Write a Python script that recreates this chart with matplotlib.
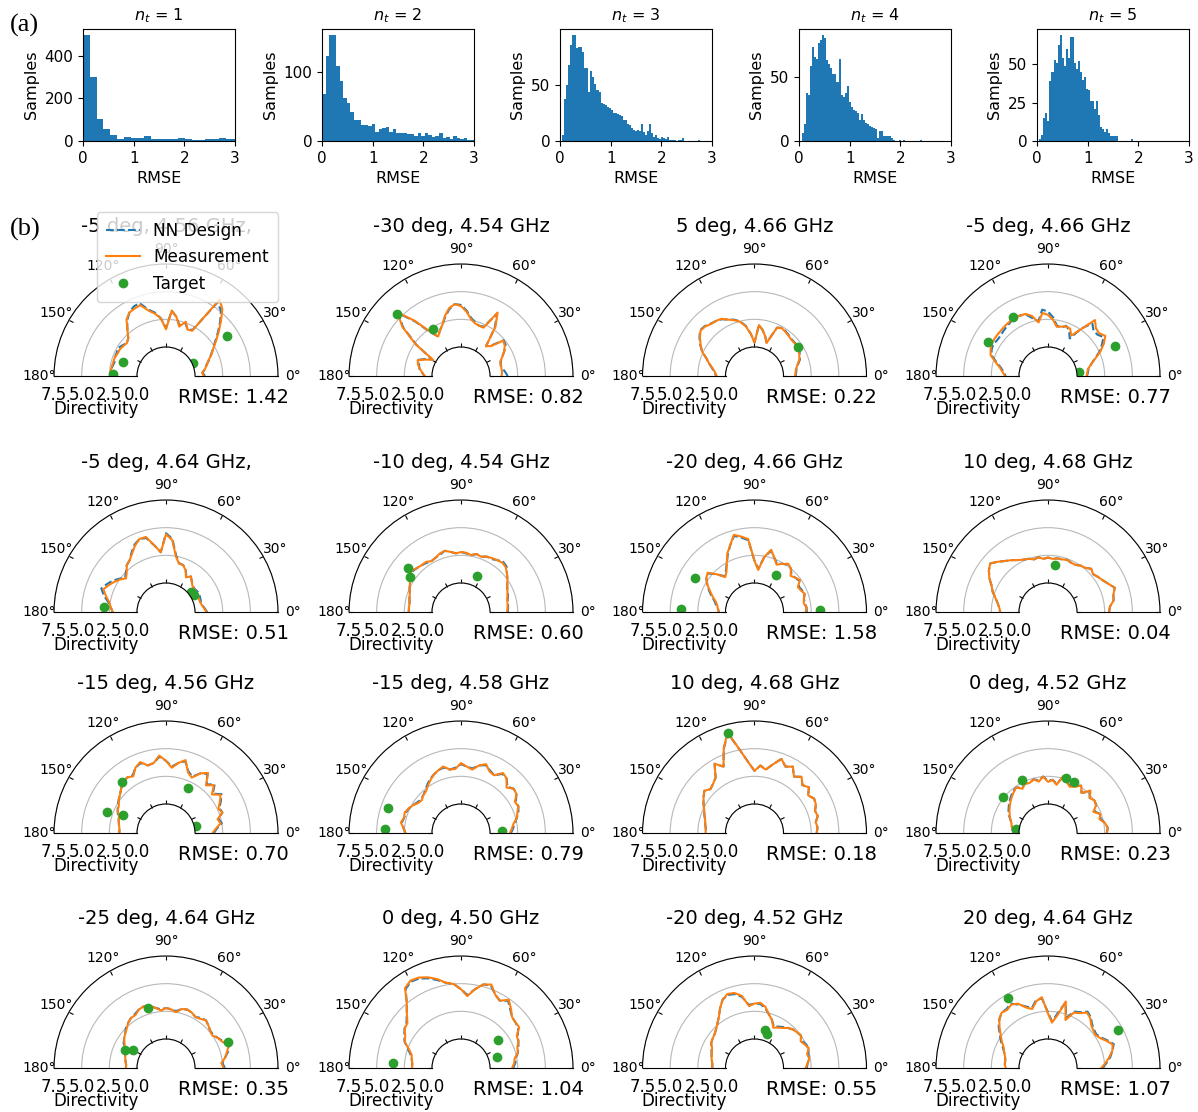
import numpy as np
import matplotlib
matplotlib.use("Agg")
import matplotlib.pyplot as plt

# ---------------- (a) RMSE histograms ----------------
hist_titles = ["$n_t$ = 1", "$n_t$ = 2", "$n_t$ = 3", "$n_t$ = 4", "$n_t$ = 5"]
hist_start = [0.0, 0.0, 0.04, 0.06, 0.046]
hist_width = [0.134, 0.07, 0.04, 0.04, 0.04]
counts_nt1 = [495, 300, 103, 58, 27, 11, 19, 16, 13, 22, 11, 8, 11, 11, 16, 8, 5, 5, 8, 11, 12, 11, 11]
counts_nt2 = [69, 124, 154, 154, 109, 88, 62, 56, 42, 31, 31, 24, 24, 22, 25, 13, 17, 19, 21, 13, 17, 12,
              11, 12, 10, 10, 8, 11, 7, 11, 9, 6, 7, 12, 4, 6, 3, 7, 4, 3, 4, 2, 1]
counts_nt3 = [5, 37, 50, 68, 85, 94, 94, 83, 84, 84, 79, 65, 65, 44, 62, 57, 51, 45, 44, 34, 33, 32, 30, 29,
              28, 25, 25, 24, 23, 22, 19, 19, 15, 14, 12, 10, 9, 10, 9, 15, 8, 5, 9, 15, 7, 4, 5, 3, 2, 4,
              3, 2, 4, 1, 1, 1, 0, 1, 1, 3, 0, 0, 0, 0, 0, 0, 0, 1]
counts_nt4 = [6, 13, 37, 36, 58, 73, 65, 64, 76, 78, 82, 80, 63, 60, 57, 52, 52, 46, 64, 36, 34, 37, 43, 30,
              26, 24, 23, 22, 16, 21, 16, 14, 13, 12, 11, 10, 9, 2, 8, 8, 4, 4, 4, 4, 2, 1, 0, 0, 1, 0, 1,
              0, 0, 0, 0, 0, 0, 0, 1]
counts_nt5 = [1, 4, 15, 18, 13, 39, 45, 53, 51, 63, 69, 54, 49, 60, 54, 68, 68, 51, 47, 52, 45, 40, 42, 34,
              33, 26, 26, 21, 26, 17, 9, 8, 6, 8, 5, 3, 3, 3, 3, 0, 0, 0, 0, 0, 0, 1]
hist_counts = [counts_nt1, counts_nt2, counts_nt3, counts_nt4, counts_nt5]

# ---------------- (b) radiation patterns ----------------
theta_deg = [0, 5, 10, 15, 20, 25, 30, 35, 40, 45, 50, 55, 60, 65, 70, 75, 80, 85, 90,
             95, 100, 105, 110, 115, 120, 125, 130, 135, 140, 145, 150, 155, 160, 165, 170, 175, 180]
theta_ticks = [0, 30, 60, 90, 120, 150, 180]
r_ticks = [0, 2.5, 5.0, 7.5]

titles = ["-5 deg, 4.56 GHz,", "-30 deg, 4.54 GHz", "5 deg, 4.66 GHz", "-5 deg, 4.66 GHz",
          "-5 deg, 4.64 GHz,", "-10 deg, 4.54 GHz", "-20 deg, 4.66 GHz", "10 deg, 4.68 GHz",
          "-15 deg, 4.56 GHz", "-15 deg, 4.58 GHz", "10 deg, 4.68 GHz", "0 deg, 4.52 GHz",
          "-25 deg, 4.64 GHz", "0 deg, 4.50 GHz", "-20 deg, 4.52 GHz", "20 deg, 4.64 GHz"]
rmse = [1.42, 0.82, 0.22, 0.77, 0.51, 0.60, 1.58, 0.04, 0.70, 0.79, 0.18, 0.23, 0.35, 1.04, 0.55, 1.07]

meas_01 = [0.8, 0.65, 0.95, 1.2, 1.45, 1.9, 2.3, 2.9, 3.6, 4.4, 5.3, 5.8, 2.1, 2.0, 2.6, 2.0, 2.8, 3.3, 1.6,
           2.6, 3.1, 3.5, 4.2, 4.1, 4.0, 3.6, 2.8, 2.2, 2.0, 2.1, 2.2, 2.2, 2.3, 2.3, 2.35, 2.4, 2.4]
nn_01 = [0.9, 0.7, 0.95, 1.15, 1.5, 1.85, 2.3, 2.8, 3.5, 4.3, 5.1, 5.5, 2.2, 2.0, 2.5, 2.1, 2.8, 3.3, 1.7,
         2.6, 3.2, 3.6, 4.4, 4.3, 4.0, 3.5, 2.8, 2.2, 2.0, 2.2, 2.4, 2.3, 2.3, 2.2, 2.3, 2.35, 2.4]
target_01 = [(33, 3.96), (26, 0.14), (162, 1.48), (177.5, 2.19)]

meas_02 = [1.05, 1.1, 1.1, 1.1, 1.15, 1.5, 1.9, 2.2, 2.35, 1.2, 0.9, 2.8, 4.0, 2.2, 2.2, 2.3, 2.6, 3.2, 3.7,
           3.9, 3.6, 3.0, 2.3, 1.9, 1.5, 2.3, 3.9, 5.5, 4.3, 2.4, 0.3, 0.9, 1.55, 1.4, 1.15, 0.9, 0.65]
nn_02 = [1.6, 1.4, 1.2, 1.1, 1.2, 1.5, 1.9, 2.3, 2.4, 1.3, 0.9, 2.7, 3.9, 2.3, 2.2, 2.4, 2.7, 3.3, 3.8,
         3.9, 3.5, 2.9, 2.3, 1.9, 1.5, 2.2, 3.8, 5.4, 4.2, 2.3, 0.4, 1.0, 1.6, 1.3, 1.2, 0.9, 0.7]
target_02 = [(136, 5.47), (121, 2.36)]

meas_03 = [1.05, 1.1, 1.2, 1.4, 1.7, 1.85, 2.0, 2.1, 2.05, 2.05, 2.15, 2.25, 2.35, 2.2, 0.55, 1.1, 1.6, 2.0,
           0.4, 1.2, 1.95, 2.45, 2.75, 3.0, 3.35, 3.45, 3.5, 3.7, 3.75, 3.4, 3.0, 2.6, 2.0, 1.6, 1.2, 0.95, 0.8]
nn_03 = [1.1, 1.15, 1.25, 1.45, 1.75, 1.9, 2.05, 2.15, 2.1, 2.1, 2.2, 2.3, 2.4, 2.2, 0.6, 1.1, 1.6, 2.0,
         0.4, 1.2, 2.0, 2.5, 2.8, 3.0, 3.3, 3.45, 3.55, 3.75, 3.8, 3.45, 3.05, 2.6, 2.0, 1.6, 1.25, 1.0, 0.85]
target_03 = [(34, 2.1)]

meas_04 = [0.87, 0.95, 1.05, 1.4, 1.9, 2.6, 3.2, 3.7, 3.4, 3.5, 3.98, 2.5, 1.6, 2.1, 2.15, 2.0, 1.9, 2.5, 2.9,
           3.1, 2.3, 3.0, 3.35, 3.4, 3.45, 3.4, 3.35, 3.3, 3.28, 3.27, 3.25, 3.1, 2.9, 2.3, 1.8, 1.5, 1.27]
nn_04 = [0.9, 1.0, 1.1, 1.4, 1.85, 2.5, 3.0, 3.5, 3.2, 3.2, 3.6, 2.6, 1.3, 1.9, 2.2, 1.9, 2.0, 2.7, 3.2,
         3.4, 2.4, 2.8, 3.3, 3.4, 3.5, 3.3, 3.2, 3.1, 3.0, 3.0, 3.1, 3.0, 2.8, 2.2, 1.7, 1.4, 1.2]
target_04 = [(151, 3.63), (120.6, 3.54), (24, 4.0), (6.7, 0.23)]

meas_05 = [1.05, 0.85, 0.7, 0.6, 0.58, 0.6, 0.62, 0.65, 0.68, 0.75, 1.0, 1.3, 1.0, 1.55, 1.9, 1.9, 2.5, 3.9,
           4.4, 2.8, 3.5, 4.4, 4.4, 4.0, 3.5, 3.1, 2.9, 2.4, 2.1, 2.5, 2.8, 3.1, 3.4, 3.0, 2.6, 2.4, 2.2]
nn_05 = [1.1, 0.9, 0.75, 0.65, 0.7, 0.75, 0.8, 0.75, 0.7, 0.8, 1.0, 1.3, 1.05, 1.6, 1.9, 1.95, 2.6, 4.0,
         4.5, 2.8, 3.5, 4.3, 4.4, 4.1, 3.6, 3.1, 2.9, 2.5, 2.2, 2.6, 3.0, 3.3, 3.6, 3.2, 2.7, 2.4, 2.2]
target_05 = [(175, 2.97), (39, 0.29), (32, 0.36)]

meas_06 = [1.55, 1.6, 1.65, 1.7, 1.85, 2.0, 2.2, 2.5, 2.8, 3.1, 3.2, 3.1, 3.0, 2.9, 2.7, 2.8, 2.6, 2.75, 2.8,
           2.7, 2.9, 3.1, 3.0, 2.8, 2.7, 2.9, 2.9, 3.0, 3.2, 3.0, 2.7, 2.5, 2.3, 2.2, 2.1, 2.1, 2.1]
nn_06 = [1.6, 1.65, 1.7, 1.75, 1.9, 2.0, 2.2, 2.5, 2.8, 3.2, 3.3, 3.1, 2.9, 2.9, 2.7, 2.8, 2.6, 2.7, 2.8,
         2.7, 2.9, 3.1, 2.9, 2.8, 2.7, 2.8, 2.9, 3.0, 3.1, 3.0, 2.7, 2.5, 2.3, 2.2, 2.1, 2.1, 2.1]
target_06 = [(140, 3.6), (145.5, 2.97), (66, 0.94)]

meas_07 = [2.0, 2.1, 1.9, 2.0, 2.2, 2.0, 1.9, 2.4, 2.2, 2.0, 2.5, 2.7, 2.4, 2.1, 2.6, 3.2, 2.4, 1.2, 2.0,
           4.0, 4.3, 4.6, 3.8, 3.2, 2.4, 1.8, 1.5, 2.2, 2.9, 2.7, 2.3, 1.8, 1.4, 1.0, 0.8, 0.7, 0.6]
nn_07 = [2.1, 2.1, 2.0, 2.0, 2.2, 2.1, 2.0, 2.3, 2.2, 2.1, 2.5, 2.6, 2.4, 2.2, 2.6, 3.1, 2.4, 1.3, 2.0,
         3.9, 4.2, 4.5, 3.8, 3.1, 2.4, 1.9, 1.6, 2.2, 2.8, 2.7, 2.3, 1.9, 1.5, 1.1, 0.9, 0.7, 0.6]
target_07 = [(150, 3.57), (60, 1.25), (178, 4.02), (2, 3.3)]

meas_08 = [2.9, 3.0, 3.4, 3.5, 3.8, 3.4, 3.1, 2.9, 2.7, 2.9, 2.6, 2.5, 2.3, 2.3, 2.4, 2.3, 2.3, 2.2, 2.3,
           2.2, 2.4, 2.3, 2.5, 2.6, 2.8, 3.1, 3.4, 3.8, 4.2, 3.9, 3.5, 3.0, 2.7, 2.3, 2.0, 1.8, 1.7]
nn_08 = [2.9, 3.0, 3.4, 3.5, 3.8, 3.4, 3.1, 2.9, 2.7, 2.9, 2.6, 2.5, 2.3, 2.3, 2.4, 2.3, 2.3, 2.2, 2.3,
         2.2, 2.4, 2.3, 2.5, 2.6, 2.8, 3.1, 3.4, 3.8, 4.2, 3.9, 3.5, 3.0, 2.7, 2.3, 2.0, 1.8, 1.7]
target_08 = [(81.5, 1.67)]

meas_09 = [1.6, 1.9, 2.4, 2.2, 2.8, 2.6, 3.0, 3.4, 2.8, 3.5, 3.0, 4.0, 3.6, 2.9, 3.2, 4.2, 3.8, 3.3, 3.9,
           4.4, 3.8, 3.7, 4.2, 3.9, 3.3, 3.5, 3.4, 3.1, 2.8, 2.6, 2.3, 2.2, 1.9, 1.8, 1.7, 1.6, 1.6]
nn_09 = [1.7, 2.0, 2.5, 2.3, 2.8, 2.7, 3.1, 3.5, 2.9, 3.6, 3.1, 3.9, 3.6, 3.0, 3.3, 4.1, 3.8, 3.4, 3.9,
         4.3, 3.8, 3.7, 4.1, 3.9, 3.4, 3.5, 3.4, 3.1, 2.8, 2.6, 2.4, 2.2, 2.0, 1.8, 1.7, 1.6, 1.6]
target_09 = [(160, 3.04), (131, 3.47), (157, 1.59), (64, 1.9), (13, 0.16)]

meas_10 = [1.8, 2.0, 2.2, 2.6, 2.8, 3.1, 3.0, 3.5, 3.6, 3.2, 3.8, 4.0, 3.4, 3.5, 4.0, 3.7, 3.2, 3.4, 3.7,
           3.2, 3.2, 3.6, 3.4, 3.2, 2.9, 2.6, 2.3, 2.2, 2.0, 2.1, 2.4, 2.6, 2.8, 2.7, 2.9, 2.6, 2.4]
nn_10 = [1.9, 2.1, 2.3, 2.6, 2.9, 3.1, 3.1, 3.5, 3.6, 3.3, 3.8, 3.9, 3.4, 3.6, 3.9, 3.7, 3.3, 3.4, 3.6,
         3.3, 3.2, 3.5, 3.4, 3.2, 3.0, 2.7, 2.4, 2.2, 2.1, 2.2, 2.4, 2.6, 2.7, 2.7, 2.8, 2.6, 2.4]
target_10 = [(161, 4.35), (177, 4.25), (3, 1.1)]

meas_11 = [3.0, 3.1, 3.0, 3.3, 3.2, 3.5, 3.6, 3.3, 3.8, 3.5, 4.0, 3.6, 4.3, 4.0, 4.5, 3.8, 3.2, 3.5, 3.0,
           3.8, 5.0, 6.8, 5.5, 4.0, 4.6, 3.5, 3.2, 3.0, 3.3, 3.0, 2.7, 2.4, 2.2, 2.0, 1.9, 1.8, 1.8]
nn_11 = [3.0, 3.1, 3.0, 3.3, 3.2, 3.5, 3.6, 3.3, 3.8, 3.5, 4.0, 3.6, 4.3, 4.0, 4.5, 3.8, 3.2, 3.5, 3.0,
         3.8, 5.0, 6.7, 5.5, 4.0, 4.6, 3.5, 3.2, 3.0, 3.3, 3.0, 2.7, 2.4, 2.2, 2.0, 1.9, 1.8, 1.8]
target_11 = [(105, 6.75)]

meas_12 = [2.7, 2.8, 2.6, 2.2, 2.4, 1.9, 2.4, 2.5, 2.3, 2.8, 2.1, 2.6, 2.2, 2.0, 2.3, 2.7, 1.8, 2.2, 2.0,
           2.5, 2.1, 2.4, 2.2, 2.3, 2.0, 2.4, 2.2, 2.0, 1.8, 1.6, 1.4, 1.2, 1.0, 0.8, 0.7, 0.6, 0.5]
nn_12 = [2.7, 2.8, 2.6, 2.3, 2.4, 2.0, 2.4, 2.5, 2.3, 2.7, 2.1, 2.6, 2.3, 2.1, 2.3, 2.6, 1.9, 2.2, 2.1,
         2.5, 2.2, 2.4, 2.2, 2.3, 2.1, 2.4, 2.3, 2.1, 1.9, 1.7, 1.5, 1.3, 1.0, 0.8, 0.7, 0.6, 0.5]
target_12 = [(141, 2.6), (116, 2.7), (63, 2.55), (72, 2.6), (173, 0.3)]

meas_13 = [2.6, 2.4, 2.8, 3.1, 3.4, 3.0, 2.8, 2.5, 2.6, 2.8, 3.0, 2.8, 2.7, 2.9, 3.0, 2.9, 2.5, 2.7, 2.8,
           2.6, 2.9, 3.2, 3.3, 3.2, 2.9, 2.9, 2.7, 2.4, 2.2, 2.0, 1.7, 1.5, 1.3, 1.2, 1.1, 1.0, 1.0]
nn_13 = [2.7, 2.5, 2.8, 3.2, 3.4, 3.1, 2.8, 2.6, 2.6, 2.8, 3.0, 2.9, 2.7, 2.9, 3.0, 2.9, 2.6, 2.7, 2.8,
         2.7, 2.9, 3.2, 3.3, 3.2, 3.0, 2.9, 2.7, 2.5, 2.2, 2.0, 1.8, 1.5, 1.3, 1.2, 1.1, 1.0, 1.0]
target_13 = [(106.7, 3.04), (156, 1.43), (151, 0.78), (22.8, 3.45)]

meas_14 = [2.0, 2.2, 2.3, 2.7, 2.8, 3.1, 3.2, 3.8, 3.8, 3.9, 4.4, 4.9, 4.4, 4.7, 5.4, 5.2, 4.6, 3.9, 4.5,
           5.0, 5.2, 5.7, 6.1, 6.4, 6.5, 6.2, 5.0, 4.3, 3.7, 3.6, 3.2, 3.0, 2.4, 2.0, 1.9, 1.8, 1.8]
nn_14 = [2.1, 2.3, 2.4, 2.7, 2.9, 3.1, 3.3, 3.7, 3.8, 3.9, 4.3, 4.8, 4.4, 4.7, 5.3, 5.2, 4.6, 4.0, 4.5,
         5.0, 5.2, 5.6, 6.0, 6.3, 6.4, 6.1, 5.0, 4.3, 3.8, 3.6, 3.3, 3.0, 2.5, 2.1, 1.9, 1.8, 1.8]
target_14 = [(176, 3.54), (17, 0.78), (37, 1.57)]

meas_15 = [2.0, 2.2, 2.4, 2.3, 2.6, 2.4, 2.2, 2.5, 2.4, 2.3, 2.1, 1.8, 1.6, 1.4, 2.0, 2.4, 3.0, 3.3, 3.2,
           3.0, 4.0, 4.4, 4.5, 4.2, 3.6, 3.0, 2.6, 2.3, 2.1, 2.0, 1.9, 1.6, 1.5, 1.4, 1.3, 1.2, 1.2]
nn_15 = [2.1, 2.2, 2.4, 2.4, 2.6, 2.5, 2.3, 2.5, 2.4, 2.3, 2.1, 1.9, 1.7, 1.5, 2.0, 2.4, 2.9, 3.2, 3.2,
         3.1, 3.9, 4.3, 4.4, 4.2, 3.6, 3.0, 2.6, 2.3, 2.1, 2.0, 1.9, 1.7, 1.5, 1.4, 1.3, 1.2, 1.2]
target_15 = [(74.5, 0.94), (70, 0.65)]

meas_16 = [2.2, 2.6, 3.0, 3.4, 3.6, 3.2, 2.8, 2.6, 2.7, 2.9, 3.3, 3.5, 3.1, 2.9, 2.0, 3.6, 2.2, 1.5, 2.3,
           3.8, 3.5, 2.9, 3.2, 3.8, 4.0, 3.8, 3.9, 3.6, 3.1, 2.6, 2.2, 1.8, 1.6, 1.4, 1.3, 1.3, 1.2]
nn_16 = [2.3, 2.7, 3.1, 3.4, 3.7, 3.3, 2.9, 2.7, 2.8, 3.0, 3.4, 3.6, 3.2, 3.0, 2.2, 3.5, 2.4, 1.6, 2.4,
         3.7, 3.6, 3.0, 3.3, 3.7, 4.1, 3.9, 3.9, 3.6, 3.2, 2.7, 2.3, 1.9, 1.6, 1.4, 1.3, 1.3, 1.2]
target_16 = [(120, 4.66), (28.5, 4.57)]

measurements = [meas_01, meas_02, meas_03, meas_04, meas_05, meas_06, meas_07, meas_08,
                meas_09, meas_10, meas_11, meas_12, meas_13, meas_14, meas_15, meas_16]
nn_designs = [nn_01, nn_02, nn_03, nn_04, nn_05, nn_06, nn_07, nn_08,
              nn_09, nn_10, nn_11, nn_12, nn_13, nn_14, nn_15, nn_16]
targets = [target_01, target_02, target_03, target_04, target_05, target_06, target_07, target_08,
           target_09, target_10, target_11, target_12, target_13, target_14, target_15, target_16]

W, H = 1198, 1112
fig = plt.figure(figsize=(W / 100, H / 100), dpi=100)

# histogram row (pixel positions of the axes boxes)
hist_left = [83, 322, 560, 799, 1037]
for i in range(5):
    ax = fig.add_axes([hist_left[i] / W, 1 - 141 / H, 152 / W, 112 / H])
    n = len(hist_counts[i])
    edges = hist_start[i] + hist_width[i] * np.arange(n + 1)
    ax.stairs(hist_counts[i], edges, fill=True, color="C0")
    ax.set_xlim(0, 3)
    ax.set_ylim(0, max(hist_counts[i]) * 1.06)
    ax.set_xticks([0, 1, 2, 3])
    ax.tick_params(labelsize=11)
    ax.set_xlabel("RMSE", fontsize=11.5)
    ax.set_ylabel("Samples", fontsize=11.5)
    ax.set_title(hist_titles[i], fontsize=11.5)

fig.text(10 / W, 1 - 32 / H, "(a)", family="Liberation Serif", fontsize=19)
fig.text(10 / W, 1 - 236 / H, "(b)", family="Liberation Serif", fontsize=19)

# polar grid: centre x of each column, baseline y of each row (pixels)
col_cx = [166, 461, 754.5, 1048]
row_by = [376, 612, 833, 1068]
R = 112
th = np.deg2rad(theta_deg)
for k in range(16):
    cx = col_cx[k % 4]
    by = row_by[k // 4]
    ax = fig.add_axes([(cx - R) / W, 1 - (by + R / 2) / H, 2 * R / W, 2 * R / H], projection="polar")
    ax.plot(th, nn_designs[k], "--", color="C0", lw=1.5, label="NN Design")
    ax.plot(th, measurements[k], "-", color="C1", lw=1.5, label="Measurement")
    tdeg = [p[0] for p in targets[k]]
    tr = [p[1] for p in targets[k]]
    ax.plot(np.deg2rad(tdeg), tr, "o", color="C2", ms=6, label="Target")
    ax.set_thetamin(0)
    ax.set_thetamax(180)
    ax.set_rorigin(-2.62)
    ax.set_ylim(0, 7.5)
    ax.set_xticks(np.deg2rad(theta_ticks))
    ax.set_yticks(r_ticks)
    ax.xaxis.grid(False)
    ax.yaxis.grid(True, color="0.72", lw=0.8)
    ax.tick_params(axis="x", labelsize=10, direction="in", length=3, tick1On=True, tick2On=True)
    ax.tick_params(axis="y", labelsize=12, labelleft=False, labelright=True)
    ax.set_ylabel("Directivity", fontsize=12, rotation=0, ha="center", va="center")
    ax.yaxis.set_label_coords(0.1875, 0.103)
    ax.set_title(titles[k], fontsize=14, y=0.895, pad=0)
    ax.text(0.80, 0.155, f"RMSE: {rmse[k]:.2f}", transform=ax.transAxes,
            ha="center", va="center", fontsize=14)
    if k == 0:
        ax.legend(loc="upper left", bbox_to_anchor=(0.19, 0.98), borderaxespad=0,
                  fontsize=12.2, framealpha=0.8, borderpad=0.55)

fig.savefig("out.png", dpi=100)
